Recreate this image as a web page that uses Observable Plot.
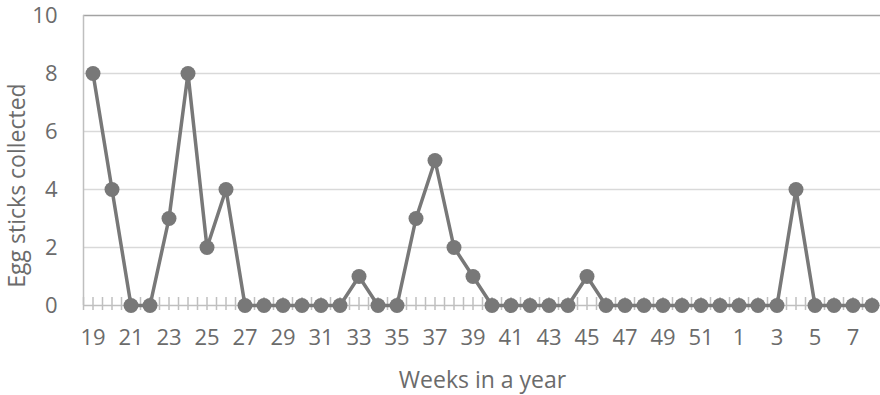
<!DOCTYPE html>
<html>
<head>
<meta charset="utf-8">
<script src="https://cdn.jsdelivr.net/npm/d3@7"></script>
<script src="https://cdn.jsdelivr.net/npm/@observablehq/plot@0.6"></script>
<style>
  html, body { margin: 0; padding: 0; background: #fff; }
  #chart { width: 880px; height: 395px; }
</style>
</head>
<body>
<div id="chart"></div>
<script>
const weeks = [19,20,21,22,23,24,25,26,27,28,29,30,31,32,33,34,35,36,37,38,39,40,41,42,43,44,45,46,47,48,49,50,51,52,1,2,3,4,5,6,7,8];
const eggSticks = [8,4,0,0,3,8,2,4,0,0,0,0,0,0,1,0,0,3,5,2,1,0,0,0,0,0,1,0,0,0,0,0,0,0,0,0,0,4,0,0,0,0];
const yTicks = [0, 2, 4, 6, 8, 10];
const xTitle = "Weeks in a year";
const yTitle = "Egg sticks collected";

const data = weeks.map((w, i) => ({i, week: w, value: eggSticks[i]}));
const labelIdx = weeks.map((w, i) => i).filter(i => i % 2 === 0);
const tickPos = [];
for (let k = 0; k <= 2 * weeks.length; k++) tickPos.push(-0.5 + k * 0.5);

const W = 880, H = 395, mT = 15, mB = 90, mL = 83, mR = -1;
const innerH = H - mT - mB;
const grey = "#787878";
const textColor = "#6b6b6b";

const chart = Plot.plot({
  width: W,
  height: H,
  marginTop: mT,
  marginBottom: mB,
  marginLeft: mL,
  marginRight: mR,
  style: {fontFamily: "'Open Sans', sans-serif", fontSize: "22px", color: textColor, background: "#fff", overflow: "visible"},
  x: {type: "linear", domain: [-0.5, weeks.length - 0.5], axis: null},
  y: {domain: [0, 10], axis: null},
  marks: [
    Plot.ruleY(yTicks.filter(t => t > 0 && t < 10), {stroke: "#d9d9d9", strokeWidth: 1.5}),
    Plot.ruleY([10], {stroke: "#a3a3a3", strokeWidth: 1.5}),
    Plot.ruleX([-0.5], {stroke: "#bfbfbf", strokeWidth: 1.5}),
    Plot.ruleX(tickPos, {stroke: "#bfbfbf", strokeWidth: 1.5, insetTop: innerH - 8, insetBottom: -5}),
    Plot.ruleY([0], {stroke: "#bfbfbf", strokeWidth: 1.5}),
    Plot.line(data, {x: "i", y: "value", stroke: grey, strokeWidth: 3.5}),
    Plot.dot(data, {x: "i", y: "value", r: 7.5, fill: grey, stroke: "none"}),
    Plot.axisY({ticks: yTicks, tickSize: 0, tickPadding: 26, fontSize: 22, label: null}),
    Plot.axisX({ticks: labelIdx, tickFormat: i => String(weeks[i]), tickSize: 0, tickPadding: 24, fontSize: 22, label: null}),
    Plot.text([xTitle], {text: d => d, frameAnchor: "bottom", lineAnchor: "top", dy: 66, fontSize: 23, fill: textColor}),
    Plot.text([yTitle], {text: d => d, frameAnchor: "left", textAnchor: "middle", rotate: -90, lineAnchor: "middle", dx: -66, dy: 25, fontSize: 23, fill: textColor})
  ]
});
document.getElementById("chart").appendChild(chart);
</script>
</body>
</html>
